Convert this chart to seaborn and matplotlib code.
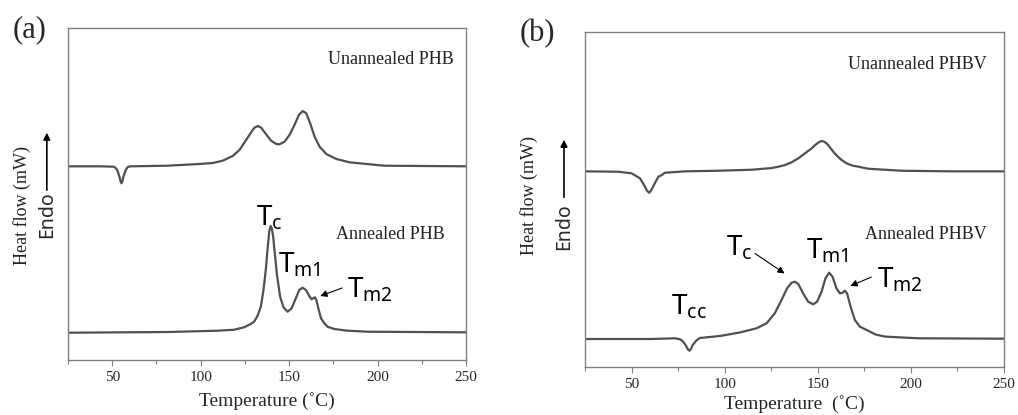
import matplotlib
matplotlib.use('Agg')
import matplotlib.pyplot as plt
import pandas as pd
import seaborn as sns

# DSC traces (temperature in C, heat flow in arbitrary units)
phb_unann_t = [25, 43.3, 50.9, 51.8, 52.8, 54.1, 54.6, 55.2, 55.8, 56.3, 57.7, 58.8, 60.3,
               81.1, 99.2, 106.8, 112.4, 118.1, 121.9, 125.7, 128.5, 130.4, 132.3, 134.2,
               137.0, 139.8, 142.7, 144.5, 147.4, 150.2, 153.0, 155.5, 157.7, 159.7, 161.9,
               164.4, 167.2, 171.0, 176.7, 184.2, 189.9, 203.8, 250]
phb_unann_y = [193.7, 193.7, 193.3, 192.3, 190.0, 183.3, 179.3, 176.7, 179.3, 183.3, 190.3,
               193.0, 193.7, 194.3, 196.0, 197.0, 199.3, 204.0, 210.0, 220.0, 227.7, 232.3,
               234.0, 232.3, 225.7, 219.3, 216.0, 215.7, 218.3, 225.0, 235.0, 245.0, 249.0,
               246.7, 236.7, 223.3, 213.3, 206.0, 201.0, 197.7, 196.7, 194.3, 193.7]

phb_ann_t = [25, 81.1, 109.4, 118.9, 124.5, 128.3, 130.2, 132.1, 134.0, 135.5, 136.8, 137.5,
             138.3, 138.8, 139.6, 140.2, 141.0, 141.5, 142.5, 143.0, 144.9, 146.8, 149.1,
             151.4, 153.8, 155.7, 157.6, 159.5, 161.4, 162.7, 163.8, 164.6, 165.5, 166.5,
             168.0, 169.9, 171.7, 175.5, 183.1, 194.4, 250]
phb_ann_y = [27.3, 28.0, 29.3, 30.3, 32.7, 36.0, 38.3, 44.0, 53.3, 70.0, 90.0, 105.0, 120.0,
             129.3, 134.0, 131.7, 123.3, 113.3, 96.7, 86.7, 63.3, 52.7, 48.3, 51.7, 61.7,
             70.0, 72.3, 70.0, 64.0, 60.7, 62.0, 62.7, 59.3, 51.7, 41.7, 36.7, 33.3, 31.0,
             29.3, 28.3, 27.7]

phbv_unann_t = [25, 42.9, 50.0, 54.5, 55.8, 57.2, 58.3, 59.4, 60.4, 61.7, 62.9, 64.4, 66.2,
                67.9, 78.7, 96.6, 114.5, 125.2, 128.8, 132.4, 135.9, 139.5, 143.1, 146.7,
                148.5, 150.2, 151.3, 152.4, 153.5, 154.7, 156.5, 158.3, 160.4, 162.8, 165.5,
                168.1, 177.1, 195.0, 221.8, 250]
phbv_unann_y = [195.7, 195.3, 193.7, 188.7, 184.7, 180.3, 176.3, 174.3, 176.3, 181.0, 185.3,
                190.3, 192.0, 194.3, 195.7, 196.3, 197.3, 199.0, 200.3, 202.0, 204.7, 208.7,
                213.7, 218.7, 222.0, 224.3, 225.7, 226.0, 225.3, 223.7, 219.7, 215.3, 211.0,
                207.0, 203.7, 201.7, 198.3, 196.3, 195.7, 195.7]

phbv_ann_t = [25, 60.8, 73.3, 76.0, 77.4, 79.2, 80.1, 81.0, 81.9, 82.8, 84.0, 84.9, 86.7,
              97.4, 108.1, 117.1, 122.5, 126.9, 130.5, 133.5, 135.9, 137.7, 139.5, 142.1,
              144.8, 147.5, 149.6, 152.0, 154.1, 156.1, 157.9, 160.0, 161.8, 163.3, 164.5,
              165.7, 167.6, 169.9, 172.6, 177.0, 181.0, 186.0, 203.9, 250]
phbv_ann_y = [28.0, 28.0, 28.7, 27.7, 26.0, 21.3, 18.0, 16.3, 18.0, 22.0, 24.7, 26.7, 29.0,
              31.0, 34.5, 38.7, 43.7, 53.7, 67.0, 78.7, 84.3, 85.3, 83.0, 73.7, 65.3, 62.7,
              65.3, 75.3, 88.7, 94.3, 90.3, 78.7, 73.7, 74.3, 76.3, 73.7, 60.3, 47.0, 40.3,
              36.3, 32.5, 30.4, 28.7, 28.3]

x_ticks = [50, 100, 150, 200, 250]
x_minor = [25, 75, 125, 175, 225]

sns.set_style('white')
plt.rcParams['font.family'] = ['Liberation Serif', 'DejaVu Serif']
plt.rcParams['mathtext.fontset'] = 'custom'
plt.rcParams['mathtext.rm'] = 'Noto Sans'
plt.rcParams['mathtext.it'] = 'Noto Sans'

LINE = '#505050'
SPINE = '#808080'
SANS = ['Noto Sans', 'DejaVu Sans']

fig = plt.figure(figsize=(10.18, 4.15), dpi=100)
ax_a = fig.add_axes([0.0668, 0.1325, 0.391, 0.80])
ax_b = fig.add_axes([0.5747, 0.1157, 0.4116, 0.807])


def style_axis(ax, ymax):
    ax.set_xlim(25, 250)
    ax.set_ylim(0, ymax)
    ax.set_xticks(x_ticks)
    ax.set_xticks(x_minor, minor=True)
    ax.set_yticks([])
    ax.tick_params(axis='x', which='major', direction='out', length=4, width=0.8,
                   color=SPINE, labelsize=11, pad=4, bottom=True)
    ax.tick_params(axis='x', which='minor', direction='out', length=3, width=0.8,
                   color=SPINE, bottom=True)
    for sp in ax.spines.values():
        sp.set_color(SPINE)
        sp.set_linewidth(1.0)
    ax.set_ylabel('')


def trace(ax, t, y):
    df = pd.DataFrame({'T': t, 'H': y})
    sns.lineplot(data=df, x='T', y='H', ax=ax, color=LINE, lw=1.6, sort=False,
                 estimator=None)


def tlabel(ax, x, y, sub):
    ax.text(x, y, r'$\mathrm{T_{' + sub + '}}$', fontsize=20, ha='left',
            va='baseline', color='black')


def arrow(ax, tip, tail):
    ax.annotate('', xy=tip, xytext=tail,
                arrowprops=dict(arrowstyle='-|>', color='black', lw=0.8, mutation_scale=10))


# (a) PHB
trace(ax_a, phb_unann_t, phb_unann_y)
trace(ax_a, phb_ann_t, phb_ann_y)
style_axis(ax_a, 332)
ax_a.set_xlabel('Temperature (\u02daC)', fontsize=14, labelpad=6)
ax_a.text(243, 301, 'Unannealed PHB', fontsize=13, ha='right', va='center', color='#222222')
ax_a.text(238, 126, 'Annealed PHB', fontsize=13, ha='right', va='center', color='#222222')
tlabel(ax_a, 131.5, 135, 'c')
tlabel(ax_a, 143.5, 88, 'm1')
tlabel(ax_a, 182.5, 63, 'm2')
arrow(ax_a, (166.1, 63), (181.4, 73))

# (b) PHBV
trace(ax_b, phbv_unann_t, phbv_unann_y)
trace(ax_b, phbv_ann_t, phbv_ann_y)
style_axis(ax_b, 335)
ax_b.set_xlabel('Temperature  (\u02daC)', fontsize=14, labelpad=3)
ax_b.text(240.7, 303, 'Unannealed PHBV', fontsize=13, ha='right', va='center', color='#222222')
ax_b.text(240.7, 133, 'Annealed PHBV', fontsize=13, ha='right', va='center', color='#222222')
tlabel(ax_b, 100.7, 112, 'c')
tlabel(ax_b, 143.6, 109, 'm1')
tlabel(ax_b, 181.7, 80, 'm2')
tlabel(ax_b, 71.1, 52, 'cc')
arrow(ax_b, (133.4, 92), (115.1, 115))
arrow(ax_b, (166.1, 80), (180.1, 91))

# panel letters and y-axis labels
fig.text(0.0295, 0.928, '(a)', fontsize=22, ha='center', va='center')
fig.text(0.528, 0.92, '(b)', fontsize=22, ha='center', va='center')

for hx, hy, ex, ey, a0, a1 in [(0.0216, 0.506, 0.046, 0.482, 0.535, 0.687),
                               (0.5197, 0.530, 0.554, 0.453, 0.518, 0.670)]:
    fig.text(hx, hy, 'Heat flow (mW)', fontsize=13, rotation=90, ha='center', va='center',
             color='#222222')
    fig.text(ex, ey, 'Endo', fontsize=14, rotation=90, ha='center', va='center',
             family=SANS)
    fig.add_artist(matplotlib.patches.FancyArrowPatch(
        (ex, a0), (ex, a1), transform=fig.transFigure, arrowstyle='-|>',
        mutation_scale=10, color='black', lw=1.2))

fig.savefig('out.png', dpi=100)
